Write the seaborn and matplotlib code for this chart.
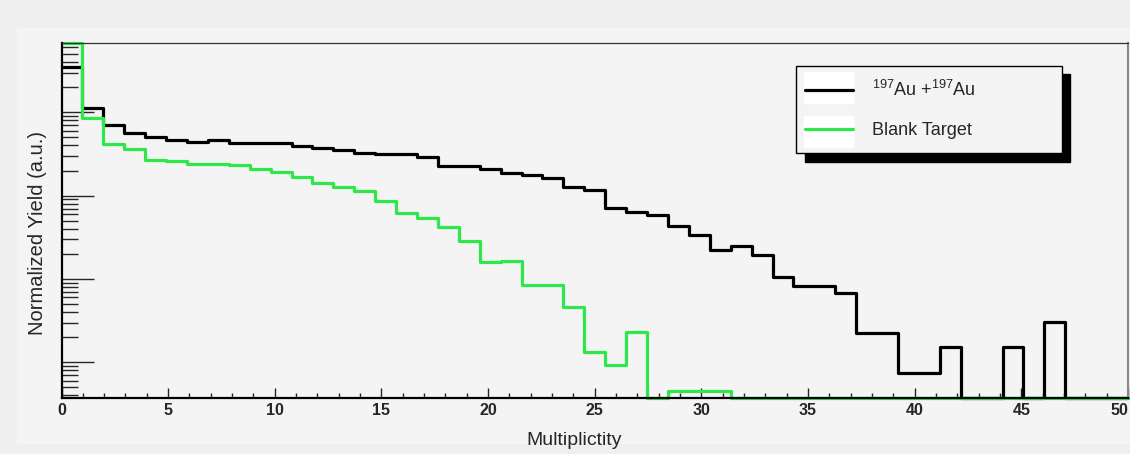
import numpy as np
import pandas as pd
import matplotlib
matplotlib.use("Agg")
import matplotlib.pyplot as plt
import seaborn as sns
from matplotlib.patches import Rectangle
from matplotlib.lines import Line2D
from matplotlib.ticker import MultipleLocator, LogLocator, NullFormatter

# === DATI (51 bin tra 0 e 50, resa normalizzata) ===
n_bins = 51
x_min, x_max = 0, 50
y_min, y_max = 3.76e-4, 6.73

au_yield = [3.53, 1.12, 0.704, 0.560, 0.501, 0.465, 0.444, 0.465, 0.434, 0.434,
            0.434, 0.397, 0.378, 0.350, 0.325, 0.313, 0.313, 0.291, 0.227, 0.227,
            0.210, 0.188, 0.175, 0.163, 0.128, 0.117, 0.0716, 0.0644, 0.0585, 0.0435,
            0.0337, 0.0225, 0.0248, 0.0194, 0.0106, 0.00822, 0.00822, 0.00683, 0.00226, 0.00226,
            0.000748, 0.000748, 0.00153, 0, 0, 0.00153, 0, 0.00306, 0, 0,
            0]
blank_yield = [6.73, 0.847, 0.416, 0.360, 0.268, 0.260, 0.239, 0.237, 0.233, 0.207,
               0.194, 0.169, 0.143, 0.128, 0.115, 0.0869, 0.0613, 0.0534, 0.0416, 0.0288,
               0.0158, 0.0164, 0.00845, 0.00845, 0.00464, 0.00134, 0.000926, 0.00229, 0, 0.000451,
               0.000451, 0.000451, 0, 0, 0, 0, 0, 0, 0, 0,
               0, 0, 0, 0, 0, 0, 0, 0, 0, 0,
               0]

labels = [r"$^{197}$Au +$^{197}$Au", "Blank Target"]
colors = ["black", "#2ee84a"]

sns.set_style("ticks")
plt.rcParams["font.family"] = ["Liberation Sans", "DejaVu Sans"]
plt.rcParams["mathtext.fontset"] = "custom"
plt.rcParams["mathtext.rm"] = "Liberation Sans"
plt.rcParams["mathtext.it"] = "Liberation Sans:italic"
plt.rcParams["mathtext.bf"] = "Liberation Sans:bold"

W, H = 1130, 454
fig = plt.figure(figsize=(W / 100, H / 100), dpi=100, facecolor="#efefef")


def px(x, y):
    # pixel (dall'alto a sinistra) -> coordinate figura
    return x / W, 1 - y / H


# tela interna (stile ROOT)
fig.add_artist(Rectangle(px(17, 443), (W - 17) / W, (443 - 28) / H,
                         transform=fig.transFigure, color="#f4f4f4", zorder=-1))

ax = fig.add_axes([61.5 / W, 1 - 397.7 / H, (1128 - 61.5) / W, (397.7 - 43.3) / H])
ax.set_facecolor("#f4f4f4")

edges = np.linspace(x_min, x_max, n_bins + 1)
for vals, col in zip([au_yield, blank_yield], colors):
    v = np.asarray(vals, dtype=float)
    v = np.where(v > 0, v, y_min)  # bin vuoti disegnati sul fondo, come ROOT
    df = pd.DataFrame({"edge": edges, "yield": np.append(v, v[-1])})
    sns.lineplot(data=df, x="edge", y="yield", drawstyle="steps-post",
                 color=col, lw=2.3, ax=ax, clip_on=False, sort=False)

ax.set_yscale("log")
ax.set_xlim(x_min, x_max)
ax.set_ylim(y_min, y_max)

ax.xaxis.set_major_locator(MultipleLocator(5))
ax.xaxis.set_minor_locator(MultipleLocator(1))
ax.yaxis.set_major_locator(LogLocator(base=10))
ax.yaxis.set_minor_locator(LogLocator(base=10, subs=np.arange(2, 10)))
ax.yaxis.set_major_formatter(NullFormatter())
ax.yaxis.set_minor_formatter(NullFormatter())

ax.tick_params(axis="x", which="major", direction="in", length=7.2, width=1,
               pad=4, labelsize=11.5)
ax.tick_params(axis="x", which="minor", direction="in", length=3.6, width=1)
ax.tick_params(axis="y", which="major", direction="in", length=23, width=1)
ax.tick_params(axis="y", which="minor", direction="in", length=11.5, width=1)

for side, lw, c in [("left", 1.6, "black"), ("bottom", 1.6, "black"),
                    ("top", 0.9, "#333333"), ("right", 1.5, "#888888")]:
    ax.spines[side].set_linewidth(lw)
    ax.spines[side].set_color(c)

ax.set_xlabel("Multiplictity", fontsize=14)
ax.xaxis.set_label_coords(0.4805, -0.097)
ax.set_ylabel("Normalized Yield (a.u.)", fontsize=14.5)
ax.yaxis.set_label_coords(-0.0136, 0.4656)

# === LEGENDA con ombra nera ===
fig.add_artist(Rectangle(px(805, 162), (1070 - 805) / W, (162 - 74) / H,
                         transform=fig.transFigure, color="black", zorder=5))
fig.add_artist(Rectangle(px(796, 153), (1062 - 796) / W, (153 - 66) / H,
                         transform=fig.transFigure, facecolor="#f4f4f4",
                         edgecolor="black", lw=1, zorder=6))
for y0 in [72, 116]:
    fig.add_artist(Rectangle(px(804, y0 + 31), 49 / W, 31 / H,
                             transform=fig.transFigure, color="white", zorder=7))

handles = [Line2D([], [], color=c, lw=2.3) for c in colors]
leg = fig.legend(handles, labels, loc="center left", frameon=False,
                 bbox_to_anchor=px(805, 109.5), bbox_transform=fig.transFigure,
                 borderpad=0, borderaxespad=0, handlelength=2.66,
                 handletextpad=1.05, labelspacing=1.2, fontsize=13)
leg.set_zorder(8)

fig.canvas.draw()
for lab in ax.get_xticklabels():
    lab.set_fontweight("bold")
    if lab.get_text() == "50":
        # l'ultima etichetta resta dentro il bordo della figura
        lab.set_horizontalalignment("right")
        lab.set_x(x_max + 0.05)

fig.savefig("out.png", dpi=100, facecolor=fig.get_facecolor())
